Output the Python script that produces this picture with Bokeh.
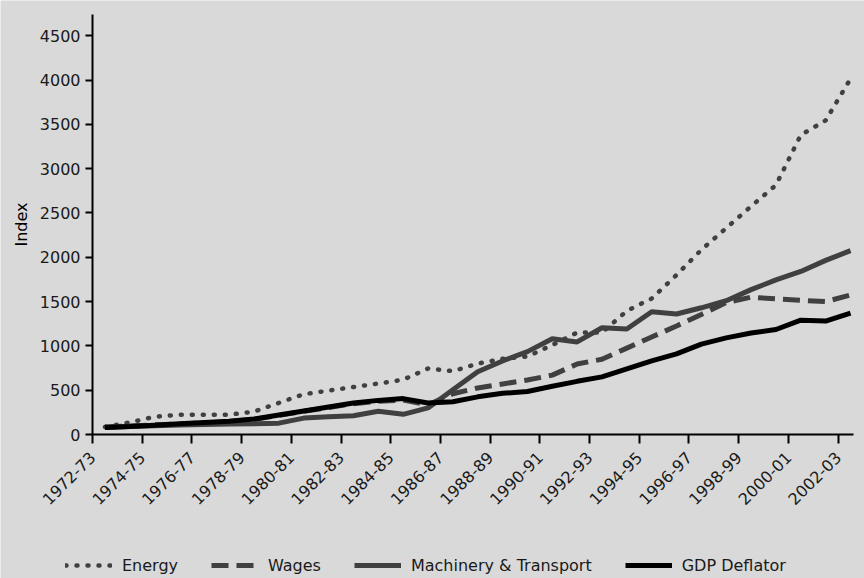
import math
from bokeh.plotting import figure
from bokeh.models import Range1d, FixedTicker, Legend, LegendItem, ColumnDataSource
from bokeh.embed import file_html
from bokeh.resources import INLINE

years = ["1972-73", "1973-74", "1974-75", "1975-76", "1976-77", "1977-78", "1978-79",
         "1979-80", "1980-81", "1981-82", "1982-83", "1983-84", "1984-85", "1985-86",
         "1986-87", "1987-88", "1988-89", "1989-90", "1990-91", "1991-92", "1992-93",
         "1993-94", "1994-95", "1995-96", "1996-97", "1997-98", "1998-99", "1999-00",
         "2000-01", "2001-02", "2002-03"]

energy = [85, 136, 200, 224, 224, 224, 258, 357, 455, 495, 536, 575, 618, 745, 715,
          800, 855, 880, 1010, 1150, 1150, 1395, 1535, 1800, 2085, 2330, 2575, 2815,
          3380, 3545, 4015]
wages = [85, 95, 110, 118, 130, 145, 170, 215, 262, 305, 348, 375, 388, 335, 460,
         525, 570, 615, 670, 795, 850, 975, 1100, 1225, 1355, 1490, 1550, 1530,
         1515, 1500, 1575]
machinery = [80, 90, 100, 108, 112, 118, 122, 128, 185, 200, 212, 262, 228, 300, 505,
             709, 830, 935, 1080, 1045, 1205, 1190, 1385, 1360, 1430, 1510, 1635, 1745,
             1840, 1965, 2075]
gdp_deflator = [78, 90, 105, 120, 135, 150, 175, 220, 265, 310, 355, 385, 405, 355, 370,
                425, 465, 485, 545, 600, 650, 740, 830, 910, 1020, 1090, 1145, 1185,
                1290, 1280, 1370]
y_ticks = [0, 500, 1000, 1500, 2000, 2500, 3000, 3500, 4000, 4500]

FONT = "DejaVu Sans"
BG = "#d9d9d9"
GREY = "#404040"

# axis extents (data units) and the surrounding view so that the legend area
# below the axes lies inside the plotting frame
X_MIN, X_MAX = -0.5, 30.12
Y_MIN, Y_MAX = 0, 4740
W, H = 864, 578
PX_L, PX_R, PX_T, PX_B = 92, 853, 14, 434          # axis box in pixels
sx = (X_MAX - X_MIN) / (PX_R - PX_L)
sy = (Y_MAX - Y_MIN) / (PX_B - PX_T)
x_range = Range1d(X_MIN - PX_L * sx, X_MAX + (W - PX_R) * sx)
y_range = Range1d(Y_MIN - (H - PX_B) * sy, Y_MAX + PX_T * sy)

x = list(range(len(years)))
src = ColumnDataSource(dict(x=x, energy=energy, wages=wages, machinery=machinery, gdp=gdp_deflator))

p = figure(width=W, height=H, output_backend="svg", toolbar_location=None,
           x_range=x_range, y_range=y_range,
           min_border_left=0, min_border_right=0, min_border_top=0, min_border_bottom=0)
p.background_fill_color = BG
p.border_fill_color = BG
p.outline_line_color = None
p.grid.visible = False

# y axis, drawn at the left edge of the data box
ya = p.yaxis[0]
ya.fixed_location = X_MIN
ya.bounds = (Y_MIN, Y_MAX)
ya.ticker = FixedTicker(ticks=y_ticks)
ya.axis_label = "Index"
ya.axis_label_text_font = FONT
ya.axis_label_text_font_size = "16px"
ya.axis_label_text_font_style = "normal"
ya.axis_label_text_color = "#000000"
ya.axis_label_standoff = 6
ya.major_label_text_font = FONT
ya.major_label_text_font_size = "16px"
ya.major_label_text_color = "#1a1a1a"
ya.major_label_standoff = 5
ya.axis_line_width = 2
ya.axis_line_color = "#000000"
ya.major_tick_line_width = 2
ya.major_tick_line_color = "#000000"
ya.major_tick_in = 0
ya.major_tick_out = 7
ya.minor_tick_line_color = None

# x axis at index 0: ticks (and labels) at category boundaries, every second year
tick_pos = [i - 0.5 for i in range(0, len(years), 2)]
xa = p.xaxis[0]
xa.fixed_location = Y_MIN
xa.bounds = (X_MIN, X_MAX)
xa.ticker = FixedTicker(ticks=tick_pos)
xa.major_label_overrides = {i - 0.5: years[i] for i in range(0, len(years), 2)}
xa.axis_line_width = 2
xa.axis_line_color = "#000000"
xa.major_tick_line_width = 2
xa.major_tick_line_color = "#000000"
xa.major_tick_in = 0
xa.major_tick_out = 9
xa.minor_tick_line_color = None
xa.major_label_standoff = 11
xa.major_label_orientation = math.pi / 4
xa.major_label_text_font = FONT
xa.major_label_text_font_size = "16px"
xa.major_label_text_color = "#1a1a1a"

r_energy = p.line("x", "energy", source=src, line_color=GREY, line_width=4.5,
                  line_dash="1 10", line_cap="round")
r_wages = p.line("x", "wages", source=src, line_color=GREY, line_width=5,
                 line_dash="17 8")
r_mach = p.line("x", "machinery", source=src, line_color=GREY, line_width=5)
r_gdp = p.line("x", "gdp", source=src, line_color="#000000", line_width=5)

legend = Legend(items=[LegendItem(label="Energy", renderers=[r_energy]),
                       LegendItem(label="Wages", renderers=[r_wages]),
                       LegendItem(label="Machinery & Transport", renderers=[r_mach]),
                       LegendItem(label="GDP Deflator", renderers=[r_gdp])],
                location=(65, 3), orientation="horizontal",
                background_fill_alpha=0, border_line_color=None,
                glyph_width=47, glyph_height=20, label_standoff=10, spacing=33,
                padding=0, margin=0, label_width=10, label_height=20,
                label_text_font=FONT, label_text_font_size="16px", label_text_color="#1a1a1a")
p.add_layout(legend)

open("out.html", "w").write(file_html(p, INLINE))
